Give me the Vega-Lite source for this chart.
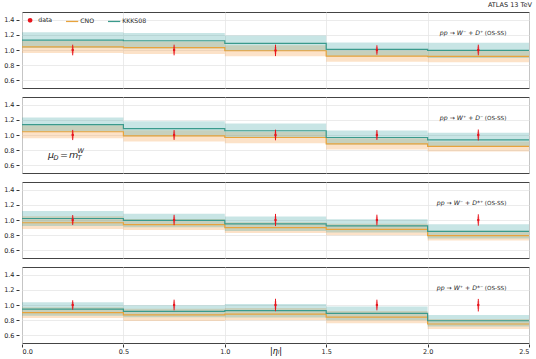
{
  "$schema": "https://vega.github.io/schema/vega-lite/v6.json",
  "padding": {"left": 3, "top": 2, "right": 9, "bottom": 2},
  "title": {"text": "ATLAS 13 TeV", "anchor": "end", "fontSize": 6.5, "fontWeight": "normal", "font": "DejaVu Sans", "offset": 3, "color": "#222"},
  "data": {"values": [
    {"p": 1, "x0": 0.0, "x1": 0.5, "xc": 0.25, "c": 1.04, "cl": 0.96, "ch": 1.12, "g": 1.13, "gl": 1.025, "gh": 1.235, "d": 1.0, "dl": 0.93, "dh": 1.07, "il": 0.955, "ih": 1.045},
    {"p": 1, "x0": 0.5, "x1": 1.0, "xc": 0.75, "c": 1.03, "cl": 0.947, "ch": 1.113, "g": 1.122, "gl": 1.02, "gh": 1.224, "d": 1.0, "dl": 0.93, "dh": 1.07, "il": 0.955, "ih": 1.045},
    {"p": 1, "x0": 1.0, "x1": 1.5, "xc": 1.25, "c": 0.99, "cl": 0.917, "ch": 1.063, "g": 1.088, "gl": 0.986, "gh": 1.19, "d": 0.995, "dl": 0.92, "dh": 1.07, "il": 0.95, "ih": 1.04},
    {"p": 1, "x0": 1.5, "x1": 2.0, "xc": 1.75, "c": 0.92, "cl": 0.846, "ch": 0.994, "g": 1.009, "gl": 0.918, "gh": 1.1, "d": 1.0, "dl": 0.938, "dh": 1.062, "il": 0.96, "ih": 1.04},
    {"p": 1, "x0": 2.0, "x1": 2.5, "xc": 2.25, "c": 0.917, "cl": 0.84, "ch": 0.994, "g": 0.995, "gl": 0.895, "gh": 1.095, "d": 1.0, "dl": 0.93, "dh": 1.07, "il": 0.955, "ih": 1.045},
    {"p": 2, "x0": 0.0, "x1": 0.5, "xc": 0.25, "c": 1.043, "cl": 0.957, "ch": 1.129, "g": 1.136, "gl": 1.042, "gh": 1.23, "d": 1.0, "dl": 0.933, "dh": 1.067, "il": 0.955, "ih": 1.045},
    {"p": 2, "x0": 0.5, "x1": 1.0, "xc": 0.75, "c": 0.988, "cl": 0.913, "ch": 1.063, "g": 1.083, "gl": 0.985, "gh": 1.182, "d": 1.0, "dl": 0.935, "dh": 1.065, "il": 0.955, "ih": 1.045},
    {"p": 2, "x0": 1.0, "x1": 1.5, "xc": 1.25, "c": 0.967, "cl": 0.89, "ch": 1.044, "g": 1.056, "gl": 0.962, "gh": 1.15, "d": 1.0, "dl": 0.93, "dh": 1.07, "il": 0.955, "ih": 1.045},
    {"p": 2, "x0": 1.5, "x1": 2.0, "xc": 1.75, "c": 0.883, "cl": 0.81, "ch": 0.956, "g": 0.967, "gl": 0.874, "gh": 1.06, "d": 1.0, "dl": 0.935, "dh": 1.065, "il": 0.955, "ih": 1.045},
    {"p": 2, "x0": 2.0, "x1": 2.5, "xc": 2.25, "c": 0.85, "cl": 0.784, "ch": 0.916, "g": 0.936, "gl": 0.842, "gh": 1.03, "d": 1.0, "dl": 0.928, "dh": 1.072, "il": 0.955, "ih": 1.045},
    {"p": 3, "x0": 0.0, "x1": 0.5, "xc": 0.25, "c": 0.964, "cl": 0.88, "ch": 1.048, "g": 1.02, "gl": 0.92, "gh": 1.12, "d": 1.0, "dl": 0.935, "dh": 1.065, "il": 0.955, "ih": 1.045},
    {"p": 3, "x0": 0.5, "x1": 1.0, "xc": 0.75, "c": 0.94, "cl": 0.868, "ch": 1.012, "g": 0.994, "gl": 0.906, "gh": 1.082, "d": 1.0, "dl": 0.932, "dh": 1.068, "il": 0.955, "ih": 1.045},
    {"p": 3, "x0": 1.0, "x1": 1.5, "xc": 1.25, "c": 0.9, "cl": 0.83, "ch": 0.97, "g": 0.95, "gl": 0.855, "gh": 1.045, "d": 1.0, "dl": 0.92, "dh": 1.08, "il": 0.95, "ih": 1.05},
    {"p": 3, "x0": 1.5, "x1": 2.0, "xc": 1.75, "c": 0.876, "cl": 0.8, "ch": 0.952, "g": 0.922, "gl": 0.834, "gh": 1.01, "d": 1.0, "dl": 0.93, "dh": 1.07, "il": 0.955, "ih": 1.045},
    {"p": 3, "x0": 2.0, "x1": 2.5, "xc": 2.25, "c": 0.795, "cl": 0.73, "ch": 0.86, "g": 0.85, "gl": 0.755, "gh": 0.945, "d": 1.0, "dl": 0.925, "dh": 1.075, "il": 0.955, "ih": 1.045},
    {"p": 4, "x0": 0.0, "x1": 0.5, "xc": 0.25, "c": 0.9, "cl": 0.83, "ch": 0.97, "g": 0.947, "gl": 0.86, "gh": 1.035, "d": 1.0, "dl": 0.938, "dh": 1.062, "il": 0.96, "ih": 1.04},
    {"p": 4, "x0": 0.5, "x1": 1.0, "xc": 0.75, "c": 0.87, "cl": 0.79, "ch": 0.95, "g": 0.917, "gl": 0.838, "gh": 0.996, "d": 1.0, "dl": 0.93, "dh": 1.07, "il": 0.955, "ih": 1.045},
    {"p": 4, "x0": 1.0, "x1": 1.5, "xc": 1.25, "c": 0.88, "cl": 0.8, "ch": 0.96, "g": 0.925, "gl": 0.837, "gh": 1.013, "d": 1.0, "dl": 0.918, "dh": 1.082, "il": 0.95, "ih": 1.05},
    {"p": 4, "x0": 1.5, "x1": 2.0, "xc": 1.75, "c": 0.84, "cl": 0.76, "ch": 0.92, "g": 0.89, "gl": 0.8, "gh": 0.98, "d": 1.0, "dl": 0.93, "dh": 1.07, "il": 0.955, "ih": 1.045},
    {"p": 4, "x0": 2.0, "x1": 2.5, "xc": 2.25, "c": 0.75, "cl": 0.684, "ch": 0.816, "g": 0.793, "gl": 0.716, "gh": 0.87, "d": 1.0, "dl": 0.915, "dh": 1.08, "il": 0.95, "ih": 1.05},
    {"p": 1, "pre": "pp → W⁻ + D⁺", "post": "(OS-SS)"},
    {"p": 2, "pre": "pp → W⁺ + D⁻", "post": "(OS-SS)", "mu": "yes"},
    {"p": 3, "pre": "pp → W⁻ + D*⁺", "post": "(OS-SS)"},
    {"p": 4, "pre": "pp → W⁺ + D*⁻", "post": "(OS-SS)"}
  ]},
  "facet": {"row": {"field": "p", "type": "ordinal", "title": null, "header": {"labels": false, "title": null}}},
  "spacing": {"row": 7},
  "spec": {
    "width": 507,
    "height": 76,
    "layer": [
      {
        "transform": [{"filter": "isValid(datum.c)"}],
        "mark": {"type": "rect", "color": "#f5a04a", "opacity": 0.3},
        "encoding": {
          "x": {"field": "x0", "type": "quantitative", "scale": {"domain": [0, 2.5], "nice": false, "zero": false},
                "axis": {"values": [0, 0.5, 1, 1.5, 2, 2.5], "format": ".1f", "title": "|ηₗ|", "titleFont": "DejaVu Sans", "titleFontSize": 8, "titleFontWeight": "normal", "titleFontStyle": "italic", "titlePadding": -7, "labelPadding": 1}},
          "x2": {"field": "x1"},
          "y": {"field": "cl", "type": "quantitative", "scale": {"domain": [0.5, 1.5], "nice": false, "zero": false},
                "axis": {"tickCount": 5, "format": ".1f", "title": null, "grid": true, "labelOverlap": false}},
          "y2": {"field": "ch"}
        }
      },
      {
        "transform": [{"filter": "isValid(datum.c)"}],
        "mark": {"type": "rect", "color": "#3aa0a0", "opacity": 0.28},
        "encoding": {
          "x": {"field": "x0", "type": "quantitative"},
          "x2": {"field": "x1"},
          "y": {"field": "gl", "type": "quantitative"},
          "y2": {"field": "gh"}
        }
      },
      {
        "transform": [{"filter": "isValid(datum.c)"}, {"fold": ["x0", "x1"], "as": ["edge", "xv"]}],
        "mark": {"type": "line", "strokeWidth": 1.2},
        "encoding": {
          "x": {"field": "xv", "type": "quantitative"},
          "y": {"field": "c", "type": "quantitative"},
          "order": [{"field": "xv", "type": "quantitative"}, {"field": "edge", "type": "nominal", "sort": "descending"}],
          "color": {"datum": "CNO", "type": "nominal",
            "scale": {"domain": ["data", "CNO", "KKKS08"], "range": ["#e8141c", "#e8a33c", "#3a9a8c"]},
            "legend": {"title": null, "orient": "top-left", "direction": "horizontal", "offset": 5,
              "labelFont": "DejaVu Sans", "labelFontSize": 6.2, "labelColor": "#222", "columnPadding": 10, "labelOffset": 5,
              "symbolType": {"expr": "datum.value === 'data' ? 'circle' : 'stroke'"},
              "symbolSize": {"expr": "datum.value === 'data' ? 6 : 150"},
              "symbolStrokeWidth": {"expr": "datum.value === 'data' ? 2.2 : 1.3"},
              "symbolFillColor": "#e8141c",
              "symbolOpacity": 1}
          }
        }
      },
      {
        "transform": [{"filter": "isValid(datum.c)"}, {"fold": ["x0", "x1"], "as": ["edge", "xv"]}],
        "mark": {"type": "line", "strokeWidth": 1.2},
        "encoding": {
          "x": {"field": "xv", "type": "quantitative"},
          "y": {"field": "g", "type": "quantitative"},
          "order": [{"field": "xv", "type": "quantitative"}, {"field": "edge", "type": "nominal", "sort": "descending"}],
          "color": {"datum": "KKKS08", "type": "nominal"}
        }
      },
      {
        "transform": [{"filter": "isValid(datum.c)"}],
        "mark": {"type": "rule", "color": "#e8141c", "strokeWidth": 2, "opacity": 0.35},
        "encoding": {
          "x": {"field": "xc", "type": "quantitative"},
          "y": {"field": "il", "type": "quantitative"},
          "y2": {"field": "ih"}
        }
      },
      {
        "transform": [{"filter": "isValid(datum.c)"}],
        "mark": {"type": "rule", "color": "#e8141c", "strokeWidth": 1},
        "encoding": {
          "x": {"field": "xc", "type": "quantitative"},
          "y": {"field": "dl", "type": "quantitative"},
          "y2": {"field": "dh"}
        }
      },
      {
        "transform": [{"filter": "isValid(datum.c)"}],
        "mark": {"type": "point", "filled": true, "size": 6, "opacity": 1, "color": "#e8141c"},
        "encoding": {
          "x": {"field": "xc", "type": "quantitative"},
          "y": {"field": "d", "type": "quantitative"}
        }
      },
      {
        "transform": [{"filter": "isValid(datum.pre)"}],
        "mark": {"type": "text", "align": "right", "baseline": "middle", "fontSize": 6.2, "fontStyle": "italic", "font": "DejaVu Sans", "color": "#222"},
        "encoding": {
          "x": {"datum": 2.275, "type": "quantitative"},
          "y": {"datum": 1.23, "type": "quantitative"},
          "text": {"field": "pre"}
        }
      },
      {
        "transform": [{"filter": "isValid(datum.pre)"}],
        "mark": {"type": "text", "align": "left", "baseline": "middle", "dx": 1.5, "fontSize": 5.6, "font": "DejaVu Sans", "color": "#222"},
        "encoding": {
          "x": {"datum": 2.275, "type": "quantitative"},
          "y": {"datum": 1.23, "type": "quantitative"},
          "text": {"field": "post"}
        }
      },
      {
        "transform": [{"filter": "isValid(datum.mu)"}],
        "mark": {"type": "text", "align": "left", "baseline": "alphabetic", "fontSize": 9.5, "fontStyle": "italic", "font": "DejaVu Sans", "color": "#222", "text": "μ"},
        "encoding": {"x": {"datum": 0.128, "type": "quantitative"}, "y": {"datum": 0.7, "type": "quantitative"}}
      },
      {
        "transform": [{"filter": "isValid(datum.mu)"}],
        "mark": {"type": "text", "align": "left", "baseline": "alphabetic", "fontSize": 6.5, "fontStyle": "italic", "font": "DejaVu Sans", "color": "#222", "text": "D", "dx": 5.5, "dy": 2},
        "encoding": {"x": {"datum": 0.128, "type": "quantitative"}, "y": {"datum": 0.7, "type": "quantitative"}}
      },
      {
        "transform": [{"filter": "isValid(datum.mu)"}],
        "mark": {"type": "text", "align": "left", "baseline": "alphabetic", "fontSize": 9.5, "font": "DejaVu Sans", "color": "#222", "text": "=", "dx": 12},
        "encoding": {"x": {"datum": 0.128, "type": "quantitative"}, "y": {"datum": 0.7, "type": "quantitative"}}
      },
      {
        "transform": [{"filter": "isValid(datum.mu)"}],
        "mark": {"type": "text", "align": "left", "baseline": "alphabetic", "fontSize": 9.5, "fontStyle": "italic", "font": "DejaVu Sans", "color": "#222", "text": "m", "dx": 21},
        "encoding": {"x": {"datum": 0.128, "type": "quantitative"}, "y": {"datum": 0.7, "type": "quantitative"}}
      },
      {
        "transform": [{"filter": "isValid(datum.mu)"}],
        "mark": {"type": "text", "align": "left", "baseline": "alphabetic", "fontSize": 6.5, "fontStyle": "italic", "font": "DejaVu Sans", "color": "#222", "text": "T", "dx": 29.5, "dy": 2},
        "encoding": {"x": {"datum": 0.128, "type": "quantitative"}, "y": {"datum": 0.7, "type": "quantitative"}}
      },
      {
        "transform": [{"filter": "isValid(datum.mu)"}],
        "mark": {"type": "text", "align": "left", "baseline": "alphabetic", "fontSize": 6.5, "fontStyle": "italic", "font": "DejaVu Sans", "color": "#222", "text": "W", "dx": 29.5, "dy": -5},
        "encoding": {"x": {"datum": 0.128, "type": "quantitative"}, "y": {"datum": 0.7, "type": "quantitative"}}
      }
    ]
  },
  "config": {
    "font": "DejaVu Sans",
    "view": {"stroke": "#444", "strokeWidth": 1},
    "axis": {"labelFont": "DejaVu Sans", "labelFontSize": 6.5, "labelColor": "#222", "tickColor": "#333", "tickSize": 3, "domain": false, "gridColor": "#e6e6e6", "gridWidth": 0.8, "labelPadding": 2},
    "axisY": {"labelOverlap": false, "tickCount": 5}
  }
}
